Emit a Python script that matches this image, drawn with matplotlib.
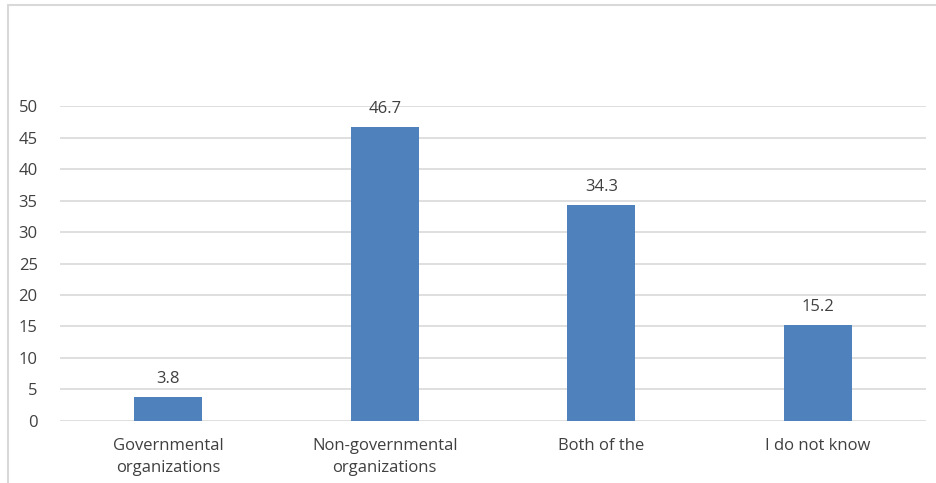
import matplotlib.pyplot as plt
from matplotlib.patches import Rectangle

categories = ["Governmental\norganizations", "Non-governmental\norganizations",
              "Both of the", "I do not know"]
values = [3.8, 46.7, 34.3, 15.2]
yticks = [0, 5, 10, 15, 20, 25, 30, 35, 40, 45, 50]

bar_color = "#4F81BD"
grid_color = "#D9D9D9"
text_color = "#404040"

plt.rcParams['font.family'] = ['Open Sans', 'DejaVu Sans']

fig = plt.figure(figsize=(9.37, 4.83), dpi=100)
ax = fig.add_axes([0.064, 0.1284, 0.9243, 0.6521])

# outer chart frame, running off the right and bottom edges
fig.patches.append(Rectangle((8 / 937, -0.1), 1.0, 1 - 5 / 483 + 0.1,
                             transform=fig.transFigure, fill=False,
                             edgecolor=grid_color, linewidth=1.5))

x = range(len(categories))
ax.bar(x, values, width=0.314, color=bar_color, zorder=3)
for xi, v in zip(x, values):
    ax.annotate("%.1f" % v, (xi, v), xytext=(0, 10), textcoords="offset points",
                ha="center", va="baseline", fontsize=12, color=text_color)

ax.set_xlim(-0.5, len(categories) - 0.5)
ax.set_ylim(0, 50)
ax.set_yticks(yticks)
ax.set_xticks(list(x))
ax.set_xticklabels(categories, fontsize=12, color=text_color, linespacing=1.55)
ax.tick_params(axis='y', length=0, pad=16, labelsize=12, labelcolor=text_color)
ax.tick_params(axis='x', length=0, pad=12)

ax.grid(axis='y', color=grid_color, linewidth=1.2, zorder=0)
for side in ["top", "right", "left", "bottom"]:
    ax.spines[side].set_visible(False)

fig.savefig("out.png", dpi=100)
